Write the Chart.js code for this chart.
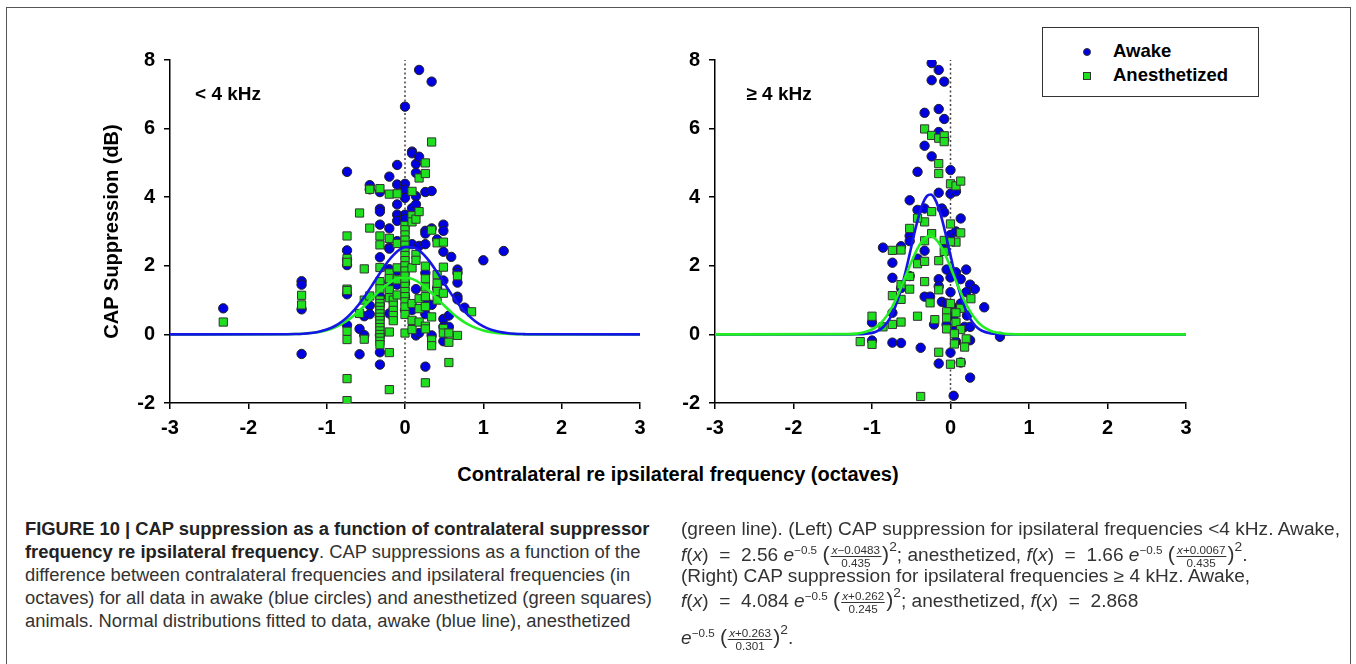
<!DOCTYPE html>
<html>
<head>
<meta charset="utf-8">
<script src="https://cdn.jsdelivr.net/npm/chart.js@4.4.1/dist/chart.umd.min.js"></script>
<style>
  html, body { margin: 0; padding: 0; background: #fff; width: 1356px; height: 664px; overflow: hidden; }
  #frame { position: absolute; left: 6px; top: 7px; width: 1345px; height: 720px; border: 1.5px solid #555; box-sizing: border-box; }
  canvas { position: absolute; top: 0; }
  #cLow { left: 0; }
  #cHigh { left: 660px; }
  .bold { font-family: "Liberation Sans", Arial, sans-serif; font-weight: bold; color: #000; }
  #xTitle { position: absolute; left: 0; width: 1356px; top: 463px; text-align: center; font-size: 20px; }
  #legend { position: absolute; left: 1042px; top: 27px; width: 217px; height: 70px; border: 1.5px solid #333; box-sizing: border-box; background: #fff; }
  #legend .row { position: absolute; left: 70px; font-size: 18.5px; line-height: 22px; }
  #legend .mk { position: absolute; left: -30px; top: 8px; width: 6px; height: 6px; border: 1px solid #333; box-sizing: content-box; }
  .cap { position: absolute; top: 0; font-family: "Liberation Sans Narrow", "Arial Narrow", "Liberation Sans", Arial, sans-serif; font-size: 18px; color: #333; white-space: nowrap; transform-origin: 0 0; }
  .cap > div { position: absolute; left: 0; height: 23px; line-height: 23px; }
  .cap b { color: #222; }
  .fr { display: inline-block; vertical-align: middle; text-align: center; font-size: 11px; line-height: 10px; margin: 0 1px; }
  .fr .n { display: block; border-bottom: 1px solid #333; padding: 0 1px 1px; }
  .fr .d { display: block; padding-top: 1px; }
  .bp { font-size: 20px; }
  sup { font-size: 11px; line-height: 0; }
  sup.sq { font-size: 13px; position: relative; top: -3px; }
</style>
</head>
<body>
<div id="frame"></div>
<canvas id="cLow" width="680" height="450"></canvas>
<canvas id="cHigh" width="580" height="450"></canvas>
<div id="xTitle" class="bold">Contralateral re ipsilateral frequency (octaves)</div>
<div id="legend" class="bold">
  <div class="row" style="top:12px;"><span class="mk" style="background:#0000e0;border-radius:50%;"></span>Awake</div>
  <div class="row" style="top:36px;"><span class="mk" style="background:#1ee01e;"></span>Anesthetized</div>
</div>

<div class="cap" id="capLeft" style="left:25px;">
  <div style="top:518px;"><b>FIGURE 10 | CAP suppression as a function of contralateral suppressor</b></div>
  <div style="top:541px;"><b>frequency re ipsilateral frequency</b>. CAP suppressions as a function of the</div>
  <div style="top:564px;">difference between contralateral frequencies and ipsilateral frequencies (in</div>
  <div style="top:587px;">octaves) for all data in awake (blue circles) and anesthetized (green squares)</div>
  <div style="top:610px;">animals. Normal distributions fitted to data, awake (blue line), anesthetized</div>
</div>
<div class="cap" id="capRight" style="left:681px;">
  <div style="top:518px;">(green line). (Left) CAP suppression for ipsilateral frequencies &lt;4 kHz. Awake,</div>
  <div style="top:543px;"><i>f</i>(<i>x</i>) &nbsp;=&nbsp; 2.56 <i>e</i><sup>−0.5</sup> <span class="bp">(</span><span class="fr"><span class="n"><i>x</i>−0.0483</span><span class="d">0.435</span></span><span class="bp">)</span><sup class="sq">2</sup>; anesthetized, <i>f</i>(<i>x</i>) &nbsp;=&nbsp; 1.66 <i>e</i><sup>−0.5</sup> <span class="bp">(</span><span class="fr"><span class="n"><i>x</i>+0.0067</span><span class="d">0.435</span></span><span class="bp">)</span><sup class="sq">2</sup>.</div>
  <div style="top:565px;">(Right) CAP suppression for ipsilateral frequencies ≥ 4 kHz. Awake,</div>
  <div style="top:589px;"><i>f</i>(<i>x</i>) &nbsp;=&nbsp; 4.084 <i>e</i><sup>−0.5</sup> <span class="bp">(</span><span class="fr"><span class="n"><i>x</i>+0.262</span><span class="d">0.245</span></span><span class="bp">)</span><sup class="sq">2</sup>; anesthetized, <i>f</i>(<i>x</i>) &nbsp;=&nbsp; 2.868</div>
  <div style="top:626px;"><i>e</i><sup>−0.5</sup> <span class="bp">(</span><span class="fr"><span class="n"><i>x</i>+0.263</span><span class="d">0.301</span></span><span class="bp">)</span><sup class="sq">2</sup>.</div>
</div>

<script>
// axis ranges
const xRange = [-3, 3];
const yRange = [-2, 8];

// ipsilateral < 4 kHz, scatter [octaves, dB]
const lowAwake = [
  [-2.32,0.76],
  [-1.32,1.55],[-1.32,1.45],[-1.32,0.73],[-1.32,-0.57],
  [-0.74,4.74],[-0.74,2.45],[-0.74,2.18],[-0.74,2.02],[-0.74,1.17],[-0.74,0.27],
  [-0.58,0.16],[-0.58,-0.58],
  [-0.52,0.53],[-0.52,-0.02],
  [-0.45,4.35],[-0.45,4.23],[-0.45,0.84],[-0.45,0.59],
  [-0.32,4.15],[-0.32,3.66],[-0.32,3.58],[-0.32,3.2],[-0.32,2.25],[-0.32,1.1],[-0.32,0.87],[-0.32,0.5],[-0.32,-0.02],[-0.32,-0.52],[-0.32,-0.88],
  [-0.2,4.6],[-0.2,3.09],[-0.2,2.53],[-0.2,2.5],[-0.2,1.9],[-0.2,1.52],[-0.2,1.1],[-0.2,0.61],
  [-0.1,4.94],[-0.1,4.37],[-0.1,3.79],[-0.1,3.49],[-0.1,3.31],[-0.1,2.72],[-0.1,1.86],[-0.1,1.45],
  [0,6.64],[0,4.39],[0,4.22],[0,3.98],[0,3.49],[0,3.36],[0,2.6],[0,2.0],[0,1.5],[0,1.1],[0,0.71],
  [0.09,5.33],[0.09,5.28],[0.09,3.68],[0.09,2.63],[0.09,0.71],
  [0.14,4.97],[0.14,4.71],[0.14,4.03],[0.14,3.79],[0.14,1.32],[0.14,-0.03],
  [0.18,7.71],[0.18,5.18],[0.18,2.58],[0.18,0.04],
  [0.26,4.15],[0.26,3.02],[0.26,2.94],[0.26,2.63],[0.26,1.79],[0.26,1.0],[0.26,0.59],[0.26,-0.94],
  [0.34,7.37],[0.34,4.18],[0.34,3.09],[0.34,0.86],[0.34,-0.03],
  [0.41,2.77],[0.41,1.35],
  [0.49,3.2],[0.49,3.02],[0.49,2.41],[0.49,1.57],[0.49,0.45],[0.49,0.22],[0.49,-0.2],
  [0.56,0.55],[0.56,0.22],
  [0.59,2.26],
  [0.67,1.89],[0.67,1.79],[0.67,1.51],[0.67,1.1],[0.67,1.02],
  [0.76,0.78],
  [1.0,2.16],
  [1.26,2.43]
];
const lowAnes = [
  [-2.32,0.36],
  [-1.32,1.14],[-1.32,0.86],
  [-0.74,2.87],[-0.74,2.21],[-0.74,2.1],[-0.74,1.32],[-0.74,1.28],[-0.74,0.09],[-0.74,-0.15],[-0.74,-1.29],[-0.74,-1.93],
  [-0.58,3.54],[-0.58,0.61],
  [-0.52,1.91],[-0.52,1.0],[-0.52,-0.14],
  [-0.45,4.23],[-0.45,3.1],[-0.45,1.12],
  [-0.32,4.25],[-0.32,2.87],[-0.32,2.61],[-0.32,1.95],[-0.32,1.54],[-0.32,1.33],[-0.32,1.0],[-0.32,0.9],[-0.32,0.8],[-0.32,0.7],[-0.32,0.6],[-0.32,0.5],[-0.32,0.4],[-0.32,0.3],[-0.32,0.2],[-0.32,0.1],[-0.32,0.0],[-0.32,-0.1],[-0.32,-0.2],[-0.32,-0.3],
  [-0.2,4.09],[-0.2,2.8],[-0.2,1.79],[-0.2,1.63],[-0.2,1.3],[-0.2,1.07],[-0.2,0.07],[-0.2,-0.53],[-0.2,-1.61],
  [-0.15,1.0],[-0.15,0.85],[-0.15,0.7],[-0.15,0.55],[-0.15,0.4],
  [-0.1,4.1],[-0.1,2.65],[-0.1,1.94],[-0.1,1.59],[-0.1,1.15],
  [0,3.17],[0,3.05],[0,2.9],[0,2.75],[0,2.6],[0,2.45],[0,2.3],[0,2.15],[0,2.0],[0,1.85],[0,1.7],[0,1.55],[0,1.4],[0,1.25],[0,1.1],[0,0.95],[0,0.8],[0,0.58],[0,0.04],
  [0.09,4.17],[0.09,3.46],[0.09,3.28],[0.09,1.94],[0.09,0.9],[0.09,0.41],[0.09,0.14],
  [0.14,3.36],[0.14,2.33],[0.14,2.16],
  [0.18,4.56],[0.18,3.58],[0.18,1.04],[0.18,0.75],[0.18,0.36],
  [0.26,5.0],[0.26,4.69],[0.26,1.99],[0.26,1.62],[0.26,1.38],[0.26,1.1],[0.26,0.81],[0.26,0.24],[0.26,0.16],[0.26,-1.41],
  [0.34,5.61],[0.34,3.04],[0.34,0.51],[0.34,-0.16],[0.34,-0.33],
  [0.41,2.67],[0.41,1.74],[0.41,1.49],[0.41,1.25],[0.41,1.0],
  [0.49,2.69],[0.49,1.96],[0.49,1.2],[0.49,0.17],[0.49,0.04],
  [0.56,0.04],[0.56,-0.23],[0.56,-0.82],
  [0.67,1.71],[0.67,-0.03],
  [0.85,0.66]
];

// ipsilateral >= 4 kHz
const highAwake = [
  [-0.24,7.91],[-0.15,7.71],[-0.24,7.41],[-0.08,7.37],[-0.33,6.46],[-0.15,6.57],[-0.08,6.28],
  [-0.15,5.9],[-0.08,5.69],[-0.33,5.5],[-0.24,5.19],[-0.42,4.74],[0,4.79],[-0.15,4.13],[0,4.1],
  [0.07,4.17],[-0.52,3.91],[-0.42,3.63],[-0.33,3.67],[-0.11,3.67],[-0.08,3.56],[0.13,3.38],
  [-0.52,2.87],[-0.52,2.72],[0,2.9],[0.07,3.0],[-0.63,2.57],[-0.86,2.53],[-0.33,2.44],[-0.08,2.64],
  [-0.74,2.09],[-0.42,2.21],[-0.74,1.65],[-0.52,1.7],[-0.05,1.89],[0.07,1.81],[0.2,1.89],
  [-0.15,1.61],[0,1.66],[0.13,1.61],[-0.15,1.4],[-0.63,1.35],[0.25,1.45],[0.31,1.32],[0.2,1.23],
  [0,1.23],[-0.33,1.1],[-0.26,1.1],[-0.11,0.95],[-0.05,0.9],[0.13,0.9],[0.43,0.79],[0.07,0.76],
  [-0.74,0.63],[0.21,0.55],[0.04,0.54],[-1.0,0.35],[-0.21,0.29],[-0.05,0.29],[0.07,0.16],
  [0.18,0.22],[0.25,0.22],[-1.0,-0.18],[-0.74,-0.24],[-0.63,-0.25],[0.25,-0.17],[0.63,-0.07],
  [-0.38,-0.39],[0,-0.53],[-0.15,-0.85],[0.13,-0.82],[0.07,-0.21],[0.25,-1.26],[0.04,-1.79]
];
const highAnes = [
  [-0.33,5.99],[-0.24,5.8],[-0.15,5.72],[-0.08,5.79],[-0.08,5.62],[-0.15,4.98],[-0.15,4.69],
  [0,4.39],[0.07,4.33],[0.13,4.47],[-0.24,3.58],[-0.33,3.28],[-0.42,3.39],[-0.52,3.09],[0,3.22],
  [0.13,2.96],[-0.24,2.94],[-0.33,2.73],[-0.08,2.74],[0.07,2.69],[0,2.7],[-0.74,2.45],[-0.63,2.46],
  [-0.08,2.42],[-0.42,2.06],[-0.33,2.13],[-0.15,2.15],[-0.52,1.69],[-0.33,1.54],[-0.63,1.45],
  [-0.52,1.32],[-0.15,1.3],[-0.74,1.13],[-0.63,1.02],[0.26,1.04],[-0.26,0.92],[0,0.9],[0.13,0.76],
  [-0.05,0.66],[0.07,0.63],[-0.42,0.53],[-1.0,0.53],[-0.2,0.43],[-0.05,0.48],[0.07,0.35],
  [-0.63,0.36],[-0.74,0.29],[-0.86,0.22],[-0.05,0.16],[0.13,0.14],[0.05,0.02],[0.2,-0.13],
  [-1.15,-0.21],[-1.0,-0.29],[0.05,-0.28],[0.18,-0.37],[-0.15,-0.52],[0.13,-0.82],[0,-0.87],[-0.38,-1.81]
];

// fitted normal curves
const lowFitX = [-3,-1.5,-1.4,-1.3,-1.2,-1.1,-1.0,-0.9,-0.8,-0.7,-0.6,-0.5,-0.4,-0.3,-0.2,-0.1,0,
  0.1,0.2,0.3,0.4,0.5,0.6,0.7,0.8,0.9,1.0,1.1,1.2,1.3,1.4,1.5,1.6,3];
const lowAwakeFit = [0,0.005,0.010,0.021,0.042,0.079,0.140,0.238,0.382,0.583,0.843,1.157,1.505,1.858,2.175,2.416,2.544,
  2.542,2.409,2.165,1.846,1.493,1.145,0.833,0.575,0.377,0.234,0.138,0.077,0.041,0.020,0.010,0.004,0];
const lowAnesFit = [0,0.005,0.010,0.020,0.039,0.071,0.123,0.202,0.315,0.466,0.655,0.873,1.103,1.323,1.504,1.622,1.660,
  1.611,1.483,1.295,1.072,0.842,0.628,0.444,0.297,0.189,0.114,0.065,0.035,0.018,0.009,0.004,0.002,0];

const highFitX = [-3,-1.3,-1.2,-1.1,-1.0,-0.95,-0.9,-0.85,-0.8,-0.75,-0.7,-0.65,-0.6,-0.55,-0.5,-0.45,-0.4,-0.35,
  -0.3,-0.25,-0.2,-0.15,-0.1,-0.05,0,0.05,0.1,0.15,0.2,0.25,0.3,0.35,0.4,0.5,0.6,0.7,0.8,0.9,3];
const highAwakeFit = [0,0.0005,0.003,0.012,0.044,0.079,0.138,0.229,0.366,0.562,0.826,1.166,1.577,2.047,2.548,3.043,3.485,3.829,
  4.035,4.079,3.955,3.679,3.282,2.809,2.305,1.815,1.371,0.993,0.690,0.460,0.294,0.180,0.106,0.032,0.008,0.002,0.0004,0,0];
const highAnesFit = [0,0.008,0.023,0.060,0.143,0.212,0.305,0.428,0.584,0.775,1.000,1.255,1.532,1.820,2.103,2.365,2.586,2.751,
  2.846,2.865,2.806,2.673,2.477,2.233,1.958,1.670,1.386,1.119,0.879,0.671,0.499,0.361,0.253,0.115,0.047,0.017,0.006,0.002,0];

const BLUE = "#0000e0";
const GREEN = "#1ee01e";
const BLUE_LINE = "#1515e6";
const GREEN_LINE = "#22ee22";
const FONT = "'Liberation Sans', Arial, sans-serif";

const toPts = arr => arr.map(p => ({ x: p[0], y: p[1] }));
const toLine = (xs, ys) => xs.map((x, i) => ({ x: x, y: ys[i] }));

// panel label drawn at data coordinates
const panelLabel = {
  id: "panelLabel",
  afterDatasetsDraw(chart, args, opts) {
    const { ctx, scales } = chart;
    ctx.save();
    ctx.font = "bold 19px " + FONT;
    ctx.fillStyle = "#000";
    ctx.textBaseline = "middle";
    ctx.fillText(opts.text, scales.x.getPixelForValue(opts.x), scales.y.getPixelForValue(opts.y));
    ctx.restore();
  }
};

function makeChart(id, awake, anes, fitX, awakeFit, anesFit, opt) {
  const tickFont = { family: FONT, size: 20, weight: "bold" };
  return new Chart(document.getElementById(id), {
    type: "scatter",
    data: {
      datasets: [
        { label: "zero", data: [{ x: 0, y: yRange[0] }, { x: 0, y: yRange[1] }], showLine: true,
          borderColor: "#444", borderWidth: 1.5, borderDash: [2, 2.5], pointRadius: 0, order: 6 },
        { label: "Awake", data: toPts(awake), backgroundColor: BLUE, borderColor: "#222",
          borderWidth: 1, pointStyle: "circle", pointRadius: 4.7, order: 5 },
        { label: "Anesthetized", data: toPts(anes), backgroundColor: GREEN, borderColor: "#333",
          borderWidth: 1, pointStyle: "rect", pointRadius: 5.8, order: 4 },
        { label: "Awake fit", data: toLine(fitX, awakeFit), showLine: true, borderColor: BLUE_LINE,
          borderWidth: 2.6, pointRadius: 0, cubicInterpolationMode: "monotone", order: opt.blueOnTop ? 1 : 2 },
        { label: "Anesthetized fit", data: toLine(fitX, anesFit), showLine: true, borderColor: GREEN_LINE,
          borderWidth: 2.6, pointRadius: 0, cubicInterpolationMode: "monotone", order: opt.blueOnTop ? 2 : 1 }
      ]
    },
    options: {
      responsive: false,
      animation: false,
      layout: { padding: opt.padding },
      plugins: {
        legend: { display: false },
        tooltip: { enabled: false },
        panelLabel: opt.label
      },
      scales: {
        x: {
          type: "linear", min: xRange[0], max: xRange[1],
          ticks: { stepSize: 1, color: "#000", font: tickFont, padding: 7, maxRotation: 0, autoSkip: false },
          grid: { drawOnChartArea: false, drawTicks: true, tickLength: 6, color: "#000", lineWidth: 1.5 },
          border: { display: true, color: "#000", width: 1.5 },
          afterFit: s => { s.height = 47; }
        },
        y: {
          min: yRange[0], max: yRange[1],
          ticks: { stepSize: 2, color: "#000", font: tickFont, padding: 9 },
          grid: { drawOnChartArea: false, drawTicks: true, tickLength: 6, color: "#000", lineWidth: 1.5 },
          border: { display: true, color: "#000", width: 1.5 },
          title: { display: opt.yTitle, text: "CAP Suppression (dB)", color: "#000",
            font: { family: FONT, size: 20, weight: "bold" }, padding: { top: 0, bottom: 0 } },
          afterFit: s => { s.width = opt.yWidth; }
        }
      }
    },
    plugins: [panelLabel]
  });
}

makeChart("cLow", lowAwake, lowAnes, lowFitX, lowAwakeFit, lowAnesFit, {
  blueOnTop: true, yTitle: true, yWidth: 70,
  padding: { left: 100, top: 60, right: 40, bottom: 0 },
  label: { text: "< 4 kHz", x: -2.68, y: 7.0 }
});
makeChart("cHigh", highAwake, highAnes, highFitX, highAwakeFit, highAnesFit, {
  blueOnTop: false, yTitle: false, yWidth: 55,
  padding: { left: 0, top: 60, right: 54, bottom: 0 },
  label: { text: "≥ 4 kHz", x: -2.6, y: 7.0 }
});

// squeeze caption columns to the widths in the figure
function fitColumn(id, target) {
  const el = document.getElementById(id);
  let w = 0;
  el.querySelectorAll(":scope > div").forEach(d => {
    const r = document.createRange();
    r.selectNodeContents(d);
    w = Math.max(w, r.getBoundingClientRect().width);
  });
  if (w > 0) el.style.transform = "scaleX(" + (target / w) + ")";
}
fitColumn("capLeft", 627);
fitColumn("capRight", 659);
</script>
</body>
</html>
